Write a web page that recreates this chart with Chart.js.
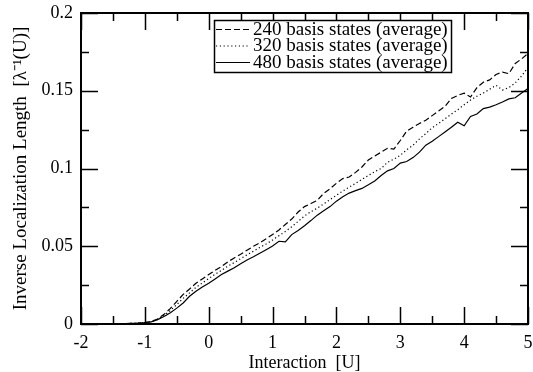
<!DOCTYPE html>
<html><head><meta charset="utf-8">
<script src="https://cdn.jsdelivr.net/npm/chart.js@4/dist/chart.umd.min.js"></script>
<style>html,body{margin:0;padding:0;background:#fff}#wrap{width:533px;height:372px}</style>
</head><body><div id="wrap"><canvas id="c" width="533" height="372"></canvas></div>
<script>
const U = [-2.0,-1.9,-1.8,-1.7,-1.6,-1.5,-1.4,-1.3,-1.2,-1.1,-1.0,-0.9,-0.8,-0.7,-0.6,-0.5,-0.4,-0.3,-0.2,-0.1,0.0,0.1,0.2,0.3,0.4,0.5,0.6,0.7,0.8,0.9,1.0,1.1,1.2,1.3,1.4,1.5,1.6,1.7,1.8,1.9,2.0,2.1,2.2,2.3,2.4,2.5,2.6,2.7,2.8,2.9,3.0,3.1,3.2,3.3,3.4,3.5,3.6,3.7,3.8,3.9,4.0,4.1,4.2,4.3,4.4,4.5,4.6,4.7,4.8,4.9,5.0];
const s240 = [0,0,0,0,0,0,0.0001,0.0002,0.0004,0.0006,0.0009,0.0016,0.0032,0.0062,0.0100,0.0145,0.0190,0.0225,0.0262,0.0290,0.0318,0.0345,0.0370,0.0400,0.0425,0.0448,0.0475,0.0500,0.0522,0.0548,0.0575,0.0605,0.0640,0.0675,0.0720,0.0755,0.0775,0.0795,0.0840,0.0870,0.0905,0.0935,0.0945,0.0975,0.1010,0.1055,0.1080,0.1105,0.1130,0.1125,0.1180,0.1240,0.1265,0.1290,0.1310,0.1340,0.1370,0.1400,0.1450,0.1470,0.1485,0.1460,0.1520,0.1555,0.1570,0.1605,0.1620,0.1610,0.1675,0.1705,0.1740];
const s320 = [0,0,0,0,0,0,0.0001,0.0002,0.0004,0.0006,0.0009,0.0015,0.0030,0.0055,0.0087,0.0125,0.0165,0.0200,0.0235,0.0264,0.0292,0.0320,0.0345,0.0372,0.0395,0.0420,0.0445,0.0468,0.0492,0.0515,0.0540,0.0568,0.0595,0.0625,0.0660,0.0695,0.0722,0.0745,0.0772,0.0800,0.0828,0.0855,0.0880,0.0905,0.0930,0.0955,0.0980,0.1000,0.1040,0.1060,0.1085,0.1120,0.1150,0.1190,0.1225,0.1262,0.1290,0.1320,0.1350,0.1378,0.1410,0.1440,0.1465,0.1485,0.1510,0.1535,0.1505,0.1520,0.1550,0.1595,0.1650];
const s480 = [0,0,0,0,0,0,0.0001,0.0002,0.0004,0.0006,0.0009,0.0014,0.0028,0.0048,0.0073,0.0102,0.0135,0.0178,0.0210,0.0238,0.0262,0.0290,0.0318,0.0340,0.0362,0.0388,0.0412,0.0432,0.0455,0.0478,0.0502,0.0532,0.0528,0.0575,0.0602,0.0632,0.0665,0.0700,0.0728,0.0755,0.0790,0.0818,0.0842,0.0858,0.0872,0.0895,0.0920,0.0955,0.0985,0.1000,0.1035,0.1045,0.1070,0.1105,0.1150,0.1175,0.1205,0.1235,0.1265,0.1298,0.1275,0.1335,0.1350,0.1385,0.1395,0.1410,0.1428,0.1448,0.1455,0.1485,0.1515];
const seriesLabels = ["240 basis states (average)","320 basis states (average)","480 basis states (average)"];
const xTitle = "Interaction  [U]";
const yTitle = "Inverse Localization Length  [\u03BB\u207B\u00B9(U)]";

const FONT = "'Liberation Serif','Times New Roman',serif";
const pts = arr => U.map((u,i)=>({x:u,y:arr[i]}));

const frameTicks = {
  id:'frameTicks',
  afterDraw(chart){
    const {ctx, chartArea:a, scales:{x,y}} = chart;
    ctx.save();
    ctx.strokeStyle='#000';
    ctx.lineWidth=1.5;
    const MAJ=17, MIN=8;
    for(let k=0;k<=14;k++){
      const v = x.min + k*0.5; const px = Math.round(x.getPixelForValue(v))+0.5;
      const L = (k%2===0)?MAJ:MIN;
      ctx.beginPath(); ctx.moveTo(px,a.bottom); ctx.lineTo(px,a.bottom-L);
      ctx.moveTo(px,a.top); ctx.lineTo(px,a.top+L); ctx.stroke();
    }
    for(let k=0;k<=8;k++){
      const v = y.min + k*0.025; const py = Math.round(y.getPixelForValue(v))+0.5;
      const L = (k%2===0)?MAJ:MIN;
      ctx.beginPath(); ctx.moveTo(a.left,py); ctx.lineTo(a.left+L,py);
      ctx.moveTo(a.right,py); ctx.lineTo(a.right-L,py); ctx.stroke();
    }
    ctx.lineWidth=2;
    ctx.strokeRect(a.left,a.top,a.right-a.left,a.bottom-a.top);
    // legend
    const lx=214, ly=20, lw=237, lh=52;
    ctx.fillStyle='#fff';
    ctx.lineWidth=1.5;
    ctx.fillRect(lx,ly,lw,lh);
    ctx.strokeRect(lx+0.5,ly+0.5,lw,lh);
    ctx.font = "19px "+FONT;
    ctx.textBaseline='middle';
    chart.data.datasets.forEach((ds,i)=>{
      const cy = ly+9+i*16.5;
      ctx.strokeStyle='#000'; ctx.lineWidth=1.2;
      ctx.setLineDash(ds.borderDash||[]);
      ctx.beginPath(); ctx.moveTo(lx+2,cy+0.5); ctx.lineTo(lx+36,cy+0.5); ctx.stroke();
      ctx.setLineDash([]);
      ctx.fillStyle='#000';
      ctx.fillText(ds.label, lx+39, cy+1);
    });
    ctx.restore();
  }
};

new Chart(document.getElementById('c'),{
  type:'line',
  data:{datasets:[
    {label:seriesLabels[0],data:pts(s240),borderColor:'#000',borderWidth:1.2,borderDash:[6,3],pointRadius:0,tension:0,fill:false},
    {label:seriesLabels[1],data:pts(s320),borderColor:'#000',borderWidth:1.2,borderDash:[1.2,2.6],pointRadius:0,tension:0,fill:false},
    {label:seriesLabels[2],data:pts(s480),borderColor:'#000',borderWidth:1.2,pointRadius:0,tension:0,fill:false}
  ]},
  options:{
    responsive:false,animation:false,
    layout:{padding:{left:0,right:5,top:13,bottom:0}},
    plugins:{legend:{display:false},tooltip:{enabled:false}},
    scales:{
      x:{type:'linear',min:-2,max:5,
        grid:{display:false,drawTicks:false},border:{display:false},
        ticks:{stepSize:1,padding:8,color:'#000',font:{family:FONT,size:18},maxRotation:0},
        title:{display:true,text:xTitle,color:'#000',font:{family:FONT,size:18,lineHeight:1},padding:{top:0,bottom:0}},
        afterFit(s){s.height=48;s.paddingLeft=0;s.paddingRight=0;}
      },
      y:{type:'linear',min:0,max:0.2,
        grid:{display:false,drawTicks:false},border:{display:false},
        ticks:{stepSize:0.05,padding:8,color:'#000',font:{family:FONT,size:18},
          callback:v=>String(Math.round(v*1000)/1000)},
        title:{display:true,text:yTitle,color:'#000',font:{family:FONT,size:19},padding:{top:10,bottom:0}},
        afterFit(s){s.width=81;s.paddingTop=0;s.paddingBottom=0;}
      }
    }
  },
  plugins:[frameTicks]
});
</script></body></html>
